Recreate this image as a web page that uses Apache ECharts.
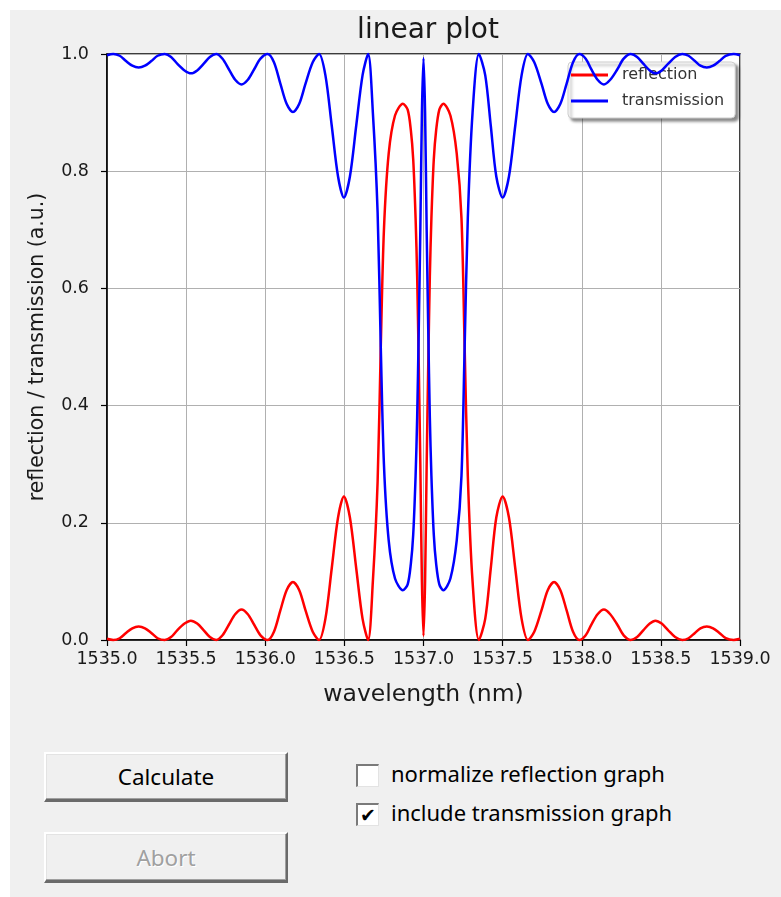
<!DOCTYPE html>
<html>
<head>
<meta charset="utf-8">
<script src="https://cdn.jsdelivr.net/npm/echarts@6/dist/echarts.min.js"></script>
<style>
  html, body { margin: 0; padding: 0; background: #ffffff; }
  #panel { position: absolute; left: 10px; top: 10px; width: 771px; height: 887px; background: #f0f0f0; }
  #chart { position: absolute; left: 0; top: 0; width: 781px; height: 740px; }
  .btn {
    position: absolute; box-sizing: border-box; background: #f0f0f0;
    border-top: 2px solid #ffffff; border-left: 2px solid #ffffff;
    border-right: 2px solid #6a6a6a; border-bottom: 3px solid #6a6a6a;
    box-shadow: inset -1px -1px 0 #a0a0a0, inset 1px 1px 0 #e3e3e3;
    font-family: "Noto Sans", sans-serif; font-size: 22.5px; color: #000;
    display: flex; align-items: center; justify-content: center;
  }
  .btn.disabled { color: #a0a0a0; text-shadow: 1px 1px 0 #ffffff; }
  .chk {
    position: absolute; box-sizing: border-box; width: 23px; height: 23px; background: #ffffff;
    border-top: 2px solid #7a7a7a; border-left: 2px solid #7a7a7a;
    border-right: 1px solid #e3e3e3; border-bottom: 1px solid #e3e3e3;
    font-family: "DejaVu Sans", sans-serif; font-size: 19px; font-weight: bold; line-height: 20px; text-align: center; color: #000;
  }
  .lbl { position: absolute; font-family: "Noto Sans", sans-serif; font-size: 22px; color: #000; white-space: nowrap; line-height: 24px; }
</style>
</head>
<body>
<div id="panel"></div>
<div id="chart"></div>
<div class="btn" style="left:44px;top:752px;width:244px;height:50px;">Calculate</div>
<div class="btn disabled" style="left:44px;top:832px;width:244px;height:51px;">Abort</div>
<div class="chk" style="left:356px;top:764px;"></div>
<div class="lbl" style="left:391px;top:761px;">normalize reflection graph</div>
<div class="chk" style="left:356px;top:803px;">✔</div>
<div class="lbl" style="left:391px;top:800px;">include transmission graph</div>
<script>
// Grating spectrum: wavelength grid (nm) with reflection and transmission readings
const wavelengths = [
  1535.000, 1535.040, 1535.080, 1535.120, 1535.160, 1535.200, 1535.240, 1535.280, 1535.320, 1535.365,
  1535.405, 1535.445, 1535.490, 1535.530, 1535.570, 1535.610, 1535.650, 1535.690,
  1535.730, 1535.770, 1535.810, 1535.850, 1535.890, 1535.930, 1535.970, 1536.015,
  1536.055, 1536.095, 1536.135, 1536.175, 1536.215, 1536.255, 1536.300, 1536.340,
  1536.380, 1536.420, 1536.460, 1536.497, 1536.535, 1536.575, 1536.615, 1536.650,
  1536.680, 1536.710, 1536.730, 1536.750, 1536.780, 1536.820, 1536.870, 1536.900,
  1536.920, 1536.935, 1536.950, 1536.960, 1536.970, 1536.980, 1536.990, 1537.000,
  1537.010, 1537.020, 1537.030, 1537.040, 1537.050, 1537.065, 1537.080, 1537.100,
  1537.125, 1537.170, 1537.210, 1537.240, 1537.260, 1537.280, 1537.310, 1537.350,
  1537.390, 1537.425, 1537.460, 1537.500, 1537.540, 1537.580, 1537.620, 1537.660,
  1537.700, 1537.745, 1537.785, 1537.825, 1537.865, 1537.905, 1537.945, 1537.985,
  1538.025, 1538.060, 1538.100, 1538.140, 1538.180, 1538.225, 1538.265, 1538.310,
  1538.350, 1538.390, 1538.430, 1538.465, 1538.505, 1538.545, 1538.590, 1538.635,
  1538.675, 1538.715, 1538.750, 1538.790, 1538.830, 1538.870, 1538.910, 1538.960, 1539.000
];
const reflection = [
  0.002, 0.000, 0.003, 0.012, 0.020, 0.023, 0.020, 0.012, 0.003, 0.000,
  0.005, 0.017, 0.028, 0.033, 0.028, 0.017, 0.005, 0.000,
  0.008, 0.026, 0.044, 0.052, 0.044, 0.026, 0.008, 0.000,
  0.014, 0.050, 0.085, 0.099, 0.085, 0.050, 0.014, 0.000,
  0.036, 0.122, 0.209, 0.245, 0.209, 0.122, 0.036, 0.000,
  0.100, 0.270, 0.500, 0.700, 0.830, 0.895, 0.915, 0.905,
  0.870, 0.820, 0.720, 0.620, 0.470, 0.300, 0.100, 0.007,
  0.100, 0.300, 0.470, 0.620, 0.720, 0.820, 0.870, 0.905,
  0.915, 0.895, 0.830, 0.720, 0.500, 0.280, 0.100, 0.000,
  0.036, 0.122, 0.209, 0.245, 0.209, 0.122, 0.036, 0.000,
  0.014, 0.050, 0.085, 0.099, 0.085, 0.050, 0.014, 0.000,
  0.008, 0.026, 0.044, 0.052, 0.044, 0.026, 0.008, 0.000,
  0.005, 0.017, 0.028, 0.033, 0.028, 0.017, 0.005, 0.000,
  0.003, 0.012, 0.020, 0.023, 0.020, 0.012, 0.003, 0.000, 0.002
];
const transmission = [
  0.998, 1.000, 0.997, 0.988, 0.980, 0.977, 0.980, 0.988, 0.997, 1.000,
  0.995, 0.983, 0.972, 0.967, 0.972, 0.983, 0.995, 1.000,
  0.992, 0.974, 0.956, 0.948, 0.956, 0.974, 0.992, 1.000,
  0.986, 0.950, 0.915, 0.901, 0.915, 0.950, 0.986, 1.000,
  0.964, 0.878, 0.791, 0.755, 0.791, 0.878, 0.964, 1.000,
  0.900, 0.730, 0.500, 0.300, 0.170, 0.105, 0.085, 0.095,
  0.130, 0.180, 0.280, 0.380, 0.530, 0.700, 0.900, 0.993,
  0.900, 0.700, 0.530, 0.380, 0.280, 0.180, 0.130, 0.095,
  0.085, 0.105, 0.170, 0.280, 0.500, 0.720, 0.900, 1.000,
  0.964, 0.878, 0.791, 0.755, 0.791, 0.878, 0.964, 1.000,
  0.986, 0.950, 0.915, 0.901, 0.915, 0.950, 0.986, 1.000,
  0.992, 0.974, 0.956, 0.948, 0.956, 0.974, 0.992, 1.000,
  0.995, 0.983, 0.972, 0.967, 0.972, 0.983, 0.995, 1.000,
  0.997, 0.988, 0.980, 0.977, 0.980, 0.988, 0.997, 1.000, 0.998
];
const xTicks = { min: 1535.0, max: 1539.0, step: 0.5 };
const yTicks = { min: 0.0, max: 1.0, step: 0.2 };

const pairs = (ys) => wavelengths.map((w, i) => [w, ys[i]]);
const mono = '"DejaVu Sans", sans-serif';

const chart = echarts.init(document.getElementById('chart'), null, { renderer: 'canvas' });
chart.setOption({
  animation: false,
  title: {
    text: 'linear plot', left: 423, top: 12, textAlign: 'center',
    textStyle: { fontFamily: mono, fontSize: 28, fontWeight: 'normal', color: '#1a1a1a' }
  },
  grid: {
    left: 107, top: 54, width: 633, height: 586, show: true,
    backgroundColor: '#ffffff', borderColor: '#000000', borderWidth: 1.5
  },
  legend: {
    data: ['reflection', 'transmission'], orient: 'vertical', left: 568, top: 62,
    icon: 'rect', itemWidth: 37, itemHeight: 3, itemGap: 10,
    padding: [5, 11, 9, 3],
    backgroundColor: '#ffffff', borderColor: '#cccccc', borderWidth: 1, borderRadius: 4,
    shadowBlur: 3, shadowColor: 'rgba(0,0,0,0.45)', shadowOffsetX: 3, shadowOffsetY: 3,
    textStyle: { fontFamily: mono, fontSize: 16, color: '#333333', padding: [0, 0, 0, 9] }
  },
  xAxis: {
    type: 'value', min: xTicks.min, max: xTicks.max, interval: xTicks.step,
    name: 'wavelength (nm)', nameLocation: 'middle', nameGap: 43,
    nameTextStyle: { fontFamily: mono, fontSize: 23.5, color: '#1a1a1a' },
    axisLine: { show: true, lineStyle: { color: '#000', width: 1.5 } },
    axisTick: { show: true, inside: false, length: 6, lineStyle: { color: '#000', width: 1.2 } },
    axisLabel: { margin: 10, fontFamily: mono, fontSize: 17.5, color: '#1a1a1a', formatter: v => v.toFixed(1) },
    splitLine: { show: true, lineStyle: { color: '#b0b0b0', width: 1 } }
  },
  yAxis: {
    type: 'value', min: yTicks.min, max: yTicks.max, interval: yTicks.step,
    name: 'reflection / transmission (a.u.)', nameLocation: 'middle', nameGap: 59,
    nameTextStyle: { fontFamily: mono, fontSize: 20.5, color: '#1a1a1a' },
    axisLine: { show: true, lineStyle: { color: '#000', width: 1.5 } },
    axisTick: { show: true, inside: false, length: 6, lineStyle: { color: '#000', width: 1.2 } },
    axisLabel: { margin: 18, fontFamily: mono, fontSize: 17.5, color: '#1a1a1a', formatter: v => v.toFixed(1) },
    splitLine: { show: true, lineStyle: { color: '#b0b0b0', width: 1 } }
  },
  series: [
    {
      name: 'reflection', type: 'line', data: pairs(reflection), showSymbol: false,
      smooth: 0.3, clip: false, color: '#ff0000', lineStyle: { color: '#ff0000', width: 2.5 }, z: 3
    },
    {
      name: 'transmission', type: 'line', data: pairs(transmission), showSymbol: false,
      smooth: 0.3, clip: false, color: '#0000ff', lineStyle: { color: '#0000ff', width: 2.5 }, z: 4
    }
  ]
});
</script>
</body>
</html>
